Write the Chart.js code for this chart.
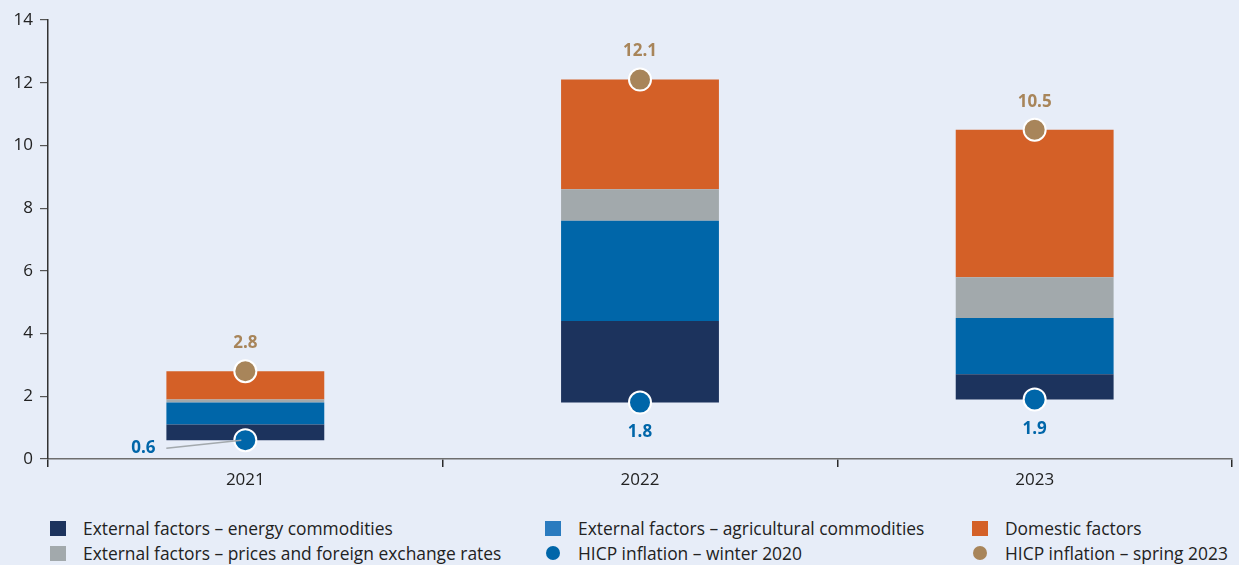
<!DOCTYPE html>
<html>
<head>
<meta charset="utf-8">
<script src="https://cdn.jsdelivr.net/npm/chart.js@4"></script>
<style>
  html, body { margin: 0; padding: 0; background: #e7edf8; }
  body { width: 1239px; height: 565px; position: relative; overflow: hidden; font-family: "Open Sans", sans-serif; }
  #wrap { position: absolute; left: 0; top: 0; width: 1239px; height: 500px; }
  .legend-item { position: absolute; font-size: 17.4px; color: #222; white-space: nowrap; line-height: 20px; }
  .legend-item .sw { position: absolute; left: 0; top: 3px; width: 16px; height: 15px; }
  .legend-item .dot { position: absolute; left: 1px; top: 3px; width: 14px; height: 14px; border-radius: 50%; }
  .legend-item span.txt { position: absolute; left: 33px; top: 0; }
</style>
</head>
<body>
<div id="wrap"><canvas id="chart"></canvas></div>
<div id="legend"></div>
<script>
const years = ['2021', '2022', '2023'];
const winter2020 = [0.6, 1.8, 1.9];
const spring2023 = [2.8, 12.1, 10.5];
const energy = [0.5, 2.6, 0.8];
const agricultural = [0.7, 3.2, 1.8];
const pricesFx = [0.1, 1.0, 1.3];
const domestic = [0.9, 3.5, 4.7];

const yTicks = [0, 2, 4, 6, 8, 10, 12, 14];

const COL_ENERGY = '#1c335d';
const COL_AGRI = '#0066a9';
const COL_FX = '#a2a9ac';
const COL_DOM = '#d46027';
const COL_WINTER = '#0066a9';
const COL_SPRING = '#a8855a';

// build floating segments stacked on top of the winter 2020 level
const components = [
  { label: 'External factors – energy commodities', values: energy, color: COL_ENERGY },
  { label: 'External factors – agricultural commodities', values: agricultural, color: COL_AGRI },
  { label: 'External factors – prices and foreign exchange rates', values: pricesFx, color: COL_FX },
  { label: 'Domestic factors', values: domestic, color: COL_DOM }
];
const running = winter2020.slice();
const barSets = components.map(c => {
  const ranges = c.values.map((v, i) => {
    const r = [running[i], running[i] + v];
    running[i] += v;
    return r;
  });
  return {
    type: 'bar',
    label: c.label,
    data: ranges,
    backgroundColor: c.color,
    borderWidth: 0,
    barPercentage: 0.4,
    categoryPercentage: 1,
    order: 2
  };
});

const pointSet = (label, values, color) => ({
  type: 'line',
  label: label,
  data: values,
  showLine: false,
  pointRadius: 11,
  pointHoverRadius: 11,
  pointBackgroundColor: color,
  pointBorderColor: '#ffffff',
  pointBorderWidth: 2,
  order: 1
});

const labelPlugin = {
  id: 'valueLabels',
  afterDatasetsDraw(chart) {
    const ctx = chart.ctx;
    const winterMeta = chart.getDatasetMeta(4);
    const springMeta = chart.getDatasetMeta(5);
    ctx.save();
    ctx.font = 'bold 17px "Open Sans", sans-serif';
    ctx.textAlign = 'center';
    ctx.textBaseline = 'middle';
    springMeta.data.forEach((pt, i) => {
      ctx.fillStyle = COL_SPRING;
      ctx.fillText(spring2023[i].toFixed(1), pt.x, pt.y - 28);
    });
    winterMeta.data.forEach((pt, i) => {
      ctx.fillStyle = COL_WINTER;
      if (i === 0) {
        // too little room under the first bar: put the label left with a leader line
        ctx.strokeStyle = '#a3a9ad';
        ctx.lineWidth = 1.5;
        ctx.beginPath();
        ctx.moveTo(pt.x - 79, pt.y + 8);
        ctx.lineTo(pt.x - 4, pt.y);
        ctx.stroke();
        ctx.fillText(winter2020[i].toFixed(1), pt.x - 102, pt.y + 8);
      } else {
        ctx.fillText(winter2020[i].toFixed(1), pt.x, pt.y + 30);
      }
    });
    ctx.restore();
  }
};

new Chart(document.getElementById('chart'), {
  data: {
    labels: years,
    datasets: [
      ...barSets,
      pointSet('HICP inflation – winter 2020', winter2020, COL_WINTER),
      pointSet('HICP inflation – spring 2023', spring2023, COL_SPRING)
    ]
  },
  options: {
    responsive: true,
    maintainAspectRatio: false,
    animation: false,
    layout: { autoPadding: false, padding: { top: 20, right: 7, left: 0, bottom: 0 } },
    plugins: {
      legend: { display: false },
      tooltip: { enabled: false }
    },
    scales: {
      x: {
        stacked: true,
        offset: true,
        afterFit: s => { s.height = 41; },
        grid: {
          offset: true,
          drawOnChartArea: false,
          tickLength: 8,
          color: '#2a2a2a',
          lineWidth: 1.5
        },
        border: { color: '#6e6e6e', width: 1.5 },
        ticks: { color: '#222', font: { size: 17, family: '"Open Sans", sans-serif' }, padding: 3 }
      },
      y: {
        stacked: false,
        min: 0,
        max: 14,
        afterFit: s => { s.width = 48; },
        afterBuildTicks: s => { s.ticks = yTicks.map(v => ({ value: v })); },
        grid: {
          drawOnChartArea: false,
          tickLength: 8,
          color: '#555',
          lineWidth: 1.2
        },
        border: { color: '#333', width: 1.5 },
        ticks: { color: '#222', font: { size: 17, family: '"Open Sans", sans-serif' }, padding: 7 }
      }
    }
  },
  plugins: [labelPlugin]
});

// legend laid out in three columns, two rows
const legendItems = [
  { text: components[0].label, color: COL_ENERGY, dot: false, x: 50, y: 518 },
  { text: components[1].label, color: '#2a7bbf', dot: false, x: 545, y: 518 },
  { text: components[3].label, color: COL_DOM, dot: false, x: 972, y: 518 },
  { text: components[2].label, color: COL_FX, dot: false, x: 50, y: 543 },
  { text: 'HICP inflation – winter 2020', color: COL_WINTER, dot: true, x: 545, y: 543 },
  { text: 'HICP inflation – spring 2023', color: COL_SPRING, dot: true, x: 972, y: 543 }
];
const legendEl = document.getElementById('legend');
legendItems.forEach(it => {
  const d = document.createElement('div');
  d.className = 'legend-item';
  d.style.left = it.x + 'px';
  d.style.top = it.y + 'px';
  const sw = document.createElement('div');
  sw.className = it.dot ? 'dot' : 'sw';
  sw.style.background = it.color;
  const t = document.createElement('span');
  t.className = 'txt';
  t.textContent = it.text;
  d.appendChild(sw);
  d.appendChild(t);
  legendEl.appendChild(d);
});
</script>
</body>
</html>
